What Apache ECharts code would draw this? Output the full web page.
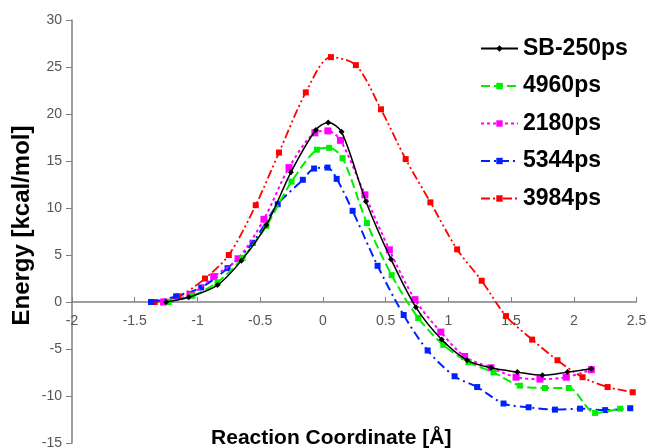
<!DOCTYPE html>
<html>
<head>
<meta charset="utf-8">
<script src="https://cdn.jsdelivr.net/npm/echarts@6/dist/echarts.min.js"></script>
<style>html,body{margin:0;padding:0;background:#fff}#c{width:648px;height:448px}</style>
</head>
<body>
<div id="c"></div>
<script>
const xTicks = { min: -2, max: 2.5, interval: 0.5 };
const yTicks = { min: -15, max: 30, interval: 5 };

const sb250X = [-1.25,-1.07,-0.84,-0.65,-0.45,-0.255,-0.056,0.042,0.149,0.343,0.543,0.742,0.947,1.15,1.34,1.55,1.75,1.95,2.14];
const sb250Y = [0,0.5,1.8,4.4,8.2,13.8,18.3,19.1,18.1,10.7,4.56,-0.57,-4.0,-6.2,-7.0,-7.46,-7.8,-7.46,-7.1];

const p4960X = [-1.23,-1.04,-0.84,-0.64,-0.45,-0.25,-0.048,0.05,0.157,0.351,0.548,0.76,0.96,1.16,1.36,1.57,1.77,1.96,2.17,2.37];
const p4960Y = [0,0.67,2.1,4.7,8.1,12.8,16.2,16.4,15.3,8.4,2.86,-1.7,-4.56,-6.4,-7.5,-8.9,-9.15,-9.15,-11.8,-11.35];

const p2180X = [-1.27,-1.06,-0.87,-0.676,-0.47,-0.27,-0.064,0.04,0.14,0.335,0.53,0.734,0.94,1.13,1.34,1.54,1.73,1.94,2.14];
const p2180Y = [0,0.74,2.7,4.6,8.8,14.3,18.0,18.2,17.2,11.4,5.55,0.25,-3.2,-5.8,-7.0,-8.0,-8.2,-8.0,-7.2];

const p5344X = [-1.37,-1.17,-0.97,-0.76,-0.56,-0.36,-0.16,-0.07,0.037,0.11,0.237,0.436,0.644,0.835,1.05,1.23,1.44,1.64,1.85,2.05,2.25,2.45];
const p5344Y = [0,0.6,1.55,3.6,6.3,10.4,13.0,14.2,14.3,13.1,9.7,3.85,-1.38,-5.16,-7.9,-9.05,-10.8,-11.2,-11.45,-11.35,-11.5,-11.3];

const p3984X = [-1.34,-1.15,-0.94,-0.75,-0.535,-0.35,-0.136,0.064,0.263,0.463,0.66,0.857,1.07,1.266,1.46,1.668,1.87,2.07,2.27,2.47];
const p3984Y = [0,0.6,2.5,5.0,10.3,15.9,22.3,26.05,25.2,20.5,15.2,10.6,5.6,2.26,-1.5,-4.0,-6.2,-8.0,-9.05,-9.6];

const seriesNames = ['SB-250ps','4960ps','2180ps','5344ps','3984ps'];

function pairs(xs, ys){ return xs.map((x,i)=>[x, ys[i]]); }

const FONT = 'Liberation Sans, Arial, sans-serif';

const styles = [
  { color:'#000000', type:'solid', width:1.5, symbol:'diamond', size:6 },
  { color:'#00ee00', type:[9,4], width:2, symbol:'rect', size:6 },
  { color:'#ff00ff', type:[3,3], width:2, symbol:'rect', size:7 },
  { color:'#0022ff', type:[9,4,2,4], width:2, symbol:'rect', size:6 },
  { color:'#ff0000', type:[9,3,2,3,2,3], width:1.8, symbol:'rect', size:6 }
];
const dataSets = [pairs(sb250X,sb250Y), pairs(p4960X,p4960Y), pairs(p2180X,p2180Y), pairs(p5344X,p5344Y), pairs(p3984X,p3984Y)];

const GRID_TOP = 20, GRID_BOTTOM = 5, H = 448;
const plotH = H - GRID_TOP - GRID_BOTTOM;
const zeroFromBottom = plotH * (0 - yTicks.min) / (yTicks.max - yTicks.min);

const chart = echarts.init(document.getElementById('c'), null, {renderer:'canvas'});
chart.setOption({
  animation: false,
  backgroundColor: '#ffffff',
  grid: { left: 72, right: 11.5, top: GRID_TOP, bottom: GRID_BOTTOM, containLabel: false, outerBoundsMode: 'none' },
  legend: {
    orient: 'vertical',
    left: 475, top: 32,
    itemWidth: 37, itemHeight: 8, itemGap: 14.5,
    data: seriesNames,
    textStyle: { fontFamily: FONT, fontWeight: 'bold', fontSize: 23, color: '#000', lineHeight: 22 }
  },
  xAxis: {
    type: 'value', min: xTicks.min, max: xTicks.max, interval: xTicks.interval,
    position: 'bottom', offset: -zeroFromBottom,
    name: 'Reaction Coordinate [Å]', nameLocation: 'middle', nameGap: 126, nameMoveOverlap: false,
    nameTextStyle: { fontFamily: FONT, fontWeight: 'bold', fontSize: 21, color: '#000', padding: [0,46,0,0] },
    axisLine: { show: true, onZero: false, lineStyle: { color: '#808080', width: 1.5 } },
    axisTick: { show: true, inside: true, length: 5, lineStyle: { color: '#808080' } },
    axisLabel: { show: true, fontFamily: FONT, fontSize: 14, color: '#555', margin: 12 },
    splitLine: { show: false }
  },
  yAxis: {
    type: 'value', min: yTicks.min, max: yTicks.max, interval: yTicks.interval,
    name: 'Energy [kcal/mol]', nameLocation: 'middle', nameGap: 38, nameRotate: 90, nameMoveOverlap: false,
    nameTextStyle: { fontFamily: FONT, fontWeight: 'bold', fontSize: 24, color: '#000', padding: [0,0,0,12] },
    axisLine: { show: true, onZero: false, lineStyle: { color: '#808080', width: 1.5 } },
    axisTick: { show: true, inside: false, length: 6, lineStyle: { color: '#808080' } },
    axisLabel: { fontFamily: FONT, fontSize: 14, color: '#555', margin: 10 },
    splitLine: { show: false }
  },
  series: seriesNames.map((n,i)=>({
    name: n, type: 'line', data: dataSets[i], smooth: 0.3,
    symbol: styles[i].symbol, symbolSize: styles[i].size, showSymbol: true,
    lineStyle: { color: styles[i].color, type: styles[i].type, width: styles[i].width },
    itemStyle: { color: styles[i].color, borderWidth: 0 },
    z: 10 - i
  }))
});
</script>
</body>
</html>
